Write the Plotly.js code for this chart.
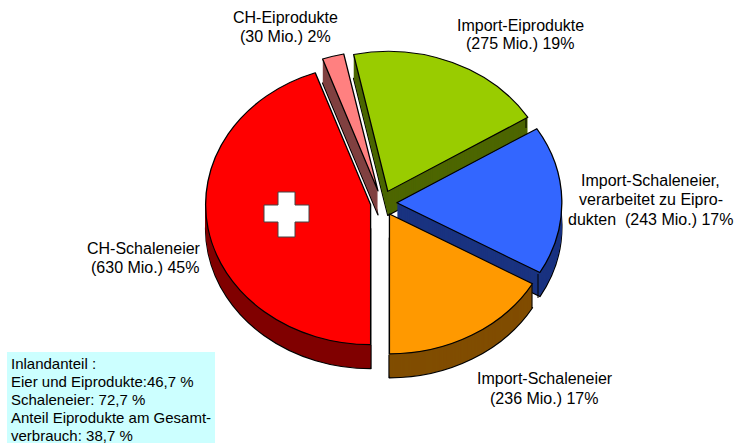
<!DOCTYPE html>
<html><head><meta charset="utf-8">
<script src="https://cdn.plot.ly/plotly-3.0.1.min.js"></script>
<style>html,body{margin:0;padding:0;background:#fff}#c{width:736px;height:443px}</style>
</head><body><div id="c"></div>
<script>
var categories = ['CH-Schaleneier','CH-Eiprodukte','Import-Eiprodukte','Import-Schaleneier verarbeitet','Import-Schaleneier'];
var values = [630,30,275,243,236];
var shares = [45,2,19,17,17];
var pulls = [0.07,0.09,0.09,0.09,0.09];
var topColors = ['#FF0000','#FF8080','#99CC00','#3366FF','#FF9900'];
var sideColors = ['#800000','#804040','#4D6600','#1A3380','#804D00'];
var boxLines = ['Inlandanteil :','Eier und Eiprodukte:46,7 %','Schaleneier: 72,7 %','Anteil Eiprodukte am Gesamt-','verbrauch: 38,7 %'];

var W=736,H=443,CX=382,CY=203,R=165,RY=140,DEPTH=24,k=RY/R;
function px(x){return x/W}
function py(y){return 1-y/H}
var half=R*(1+Math.max.apply(null,pulls));

function pie(off,colors,lineW){
  return {type:'pie',labels:categories,values:values,pull:pulls,sort:false,direction:'clockwise',rotation:180,
    textinfo:'none',hoverinfo:'skip',showlegend:false,
    marker:{colors:colors,line:{color:'#000',width:lineW}},
    domain:{x:[px(CX-half),px(CX+half)],y:[py(CY+off+half),py(CY+off-half)]}};
}
var traces=[];
for(var d=DEPTH;d>=1;d--){traces.push(pie(d/k,sideColors,d===DEPTH?1.4:0));}
traces.push(pie(0,topColors,1.3));

function txt(s,x,y,size,anchor){
  return {text:s,xref:'paper',yref:'paper',x:px(x),y:py(y),xanchor:anchor||'center',yanchor:'middle',showarrow:false,
    align:anchor==='left'?'left':'center',font:{family:'Liberation Sans, Arial, sans-serif',size:size,color:'#000'}};
}
function mio(i){return '('+values[i]+' Mio.) '+shares[i]+'%'}
var ann=[
  txt('CH-Eiprodukte',285,18,16), txt(mio(1),285,37,16),
  txt('Import-Eiprodukte',520,25,16), txt(mio(2),520,44,16),
  txt('Import-Schaleneier,',650.5,181,16), txt('verarbeitet zu Eipro-',650.5,200,16), txt('dukten  '+mio(3),650.5,220,16),
  txt('CH-Schaleneier',144,248,16), txt(mio(0),145,267,16),
  txt('Import-Schaleneier',544.5,378,16), txt(mio(4),544.5,398,16)
];
boxLines.forEach(function(s,i){ann.push(txt(s,9,363+i*18.2,15,'left'));});

function vline(x,y0,y1){return {type:'line',xref:'paper',yref:'paper',x0:px(x),x1:px(x),y0:py(y0),y1:py(y1),line:{color:'#000',width:1}}}
function crossPath(){
  var p=[[278,192],[295,192],[295,205],[309,205],[309,222],[295,222],[295,237],[278,237],[278,222],[264,222],[264,205],[278,205]];
  return 'M'+p.map(function(q){return px(q[0])+','+py(q[1])}).join('L')+'Z';
}
var shapes=[
  {type:'rect',xref:'paper',yref:'paper',x0:px(7),x1:px(215),y0:py(352),y1:py(443),fillcolor:'#CCFFFF',line:{width:0},layer:'below'},
  vline(538,274,298),vline(532,285,308),vline(389,355,378),vline(371,345,369),vline(526,118,128),
  {type:'path',xref:'paper',yref:'paper',path:crossPath(),fillcolor:'#FFFFFF',line:{color:'#444',width:1}}
];
Plotly.newPlot('c',traces,{width:W,height:H,margin:{l:0,r:0,t:0,b:0},paper_bgcolor:'#fff',plot_bgcolor:'#fff',showlegend:false,annotations:ann,shapes:shapes},{displayModeBar:false,staticPlot:true}).then(function(){
  var g=document.querySelector('.pielayer');
  if(g) g.setAttribute('transform','translate(0,'+CY+') scale(1,'+k+') translate(0,'+(-CY)+')');
});
</script></body></html>
